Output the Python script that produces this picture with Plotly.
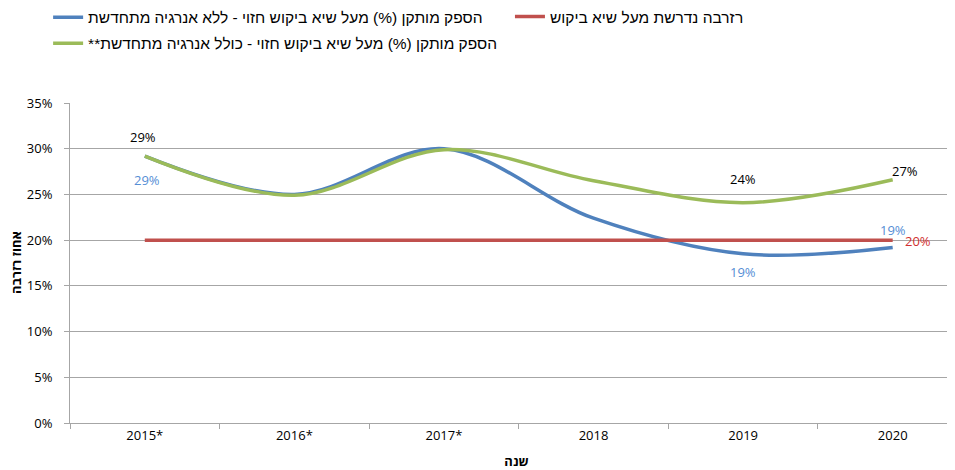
import plotly.graph_objects as go

years = ["2015*", "2016*", "2017*", "2018", "2019", "2020"]
blue_vals = [29.2, 25.0, 30.0, 22.4, 18.5, 19.2]
red_vals = [20, 20, 20, 20, 20, 20]
green_vals = [29.2, 24.9, 29.9, 26.5, 24.1, 26.6]

blue_name = "הספק מותקן (%) מעל שיא ביקוש חזוי - ללא אנרגיה מתחדשת"
red_name = "רזרבה נדרשת מעל שיא ביקוש"
green_name = "**הספק מותקן (%) מעל שיא ביקוש חזוי - כולל אנרגיה מתחדשת"

y_ticks = [0, 5, 10, 15, 20, 25, 30, 35]
y_tick_labels = ["0%", "5%", "10%", "15%", "20%", "25%", "30%", "35%"]

x_title = "שנה"
y_title = "אחוז רזרבה"

blue_c = "#4F81BD"
red_c = "#C0504D"
green_c = "#9BBB59"

FONT = "Liberation Sans Narrow, Liberation Sans, Arial, sans-serif"
LFONT = "Open Sans, DejaVu Sans, sans-serif"

fig = go.Figure()
fig.add_trace(go.Scatter(x=years, y=blue_vals, name=blue_name, mode="lines",
                         legend="legend", legendgroup="b",
                         line=dict(color=blue_c, width=3.5, shape="spline", smoothing=1.0)))
fig.add_trace(go.Scatter(x=years, y=red_vals, name=red_name, mode="lines",
                         legend="legend2",
                         line=dict(color=red_c, width=3.5)))
fig.add_trace(go.Scatter(x=years, y=green_vals, name=green_name, mode="lines",
                         legend="legend", legendgroup="g",
                         line=dict(color=green_c, width=3.5, shape="spline", smoothing=1.0)))

# (series, category index, text, color, xshift, yshift)
labels = [
    (green_vals, 0, "29%", "#000000", -2, 19),
    (green_vals, 4, "24%", "#000000", 0, 24),
    (green_vals, 5, "27%", "#000000", 12, 9),
    (blue_vals, 0, "29%", "#558ED5", 2, -24),
    (blue_vals, 4, "19%", "#558ED5", 0, -18),
    (blue_vals, 5, "19%", "#558ED5", 0, 17),
    (red_vals, 5, "20%", "#D03030", 25, -1),
]
for vals, i, t, c, xs, ys in labels:
    fig.add_annotation(x=i, y=vals[i], text=t, showarrow=False, xshift=xs, yshift=ys,
                       font=dict(family=LFONT, size=13, color=c))

# y axis title
fig.add_annotation(x=0, xref="paper", xanchor="center", xshift=-54, y=0.5, yref="paper",
                   text="<b>" + y_title + "</b>", textangle=-90, showarrow=False,
                   font=dict(family=LFONT, size=13, color="#000000"))

leg_common = dict(orientation="v", xanchor="left", xref="container", yref="container",
                  yanchor="middle", bgcolor="rgba(0,0,0,0)", itemwidth=30,
                  font=dict(family=FONT, size=15.5, color="#000000"))
fig.update_layout(
    width=955, height=470,
    margin=dict(l=62, r=0, t=95, b=55, autoexpand=False),
    paper_bgcolor="white", plot_bgcolor="white",
    font=dict(family=LFONT, size=13, color="#000000"),
    showlegend=True,
    legend=dict(x=0.042, y=0.952, tracegroupgap=3, **leg_common),
    legend2=dict(x=0.5256, y=0.981, **leg_common),
)
fig.update_xaxes(
    type="category", range=[-0.5, 5.47], showgrid=False, automargin=False,
    showline=True, linecolor="#A6A6A6", linewidth=1,
    ticks="outside", tickson="boundaries", ticklen=5, tickcolor="#A6A6A6",
    tickfont=dict(family=LFONT, size=13, color="#000000"),
    title=dict(text="<b>" + x_title + "</b>", font=dict(family=LFONT, size=13, color="#000000"), standoff=14),
)
fig.update_yaxes(
    range=[0, 35], tickvals=y_ticks, ticktext=y_tick_labels, automargin=False,
    showgrid=True, gridcolor="#A6A6A6", gridwidth=1,
    showline=True, linecolor="#A6A6A6", linewidth=1,
    ticks="outside", ticklen=5, tickcolor="#A6A6A6", ticklabelstandoff=9,
    tickfont=dict(family=LFONT, size=13, color="#000000"),
    zeroline=False,
)

fig.write_html("out.html", post_script="document.body.style.overflow='hidden';")
